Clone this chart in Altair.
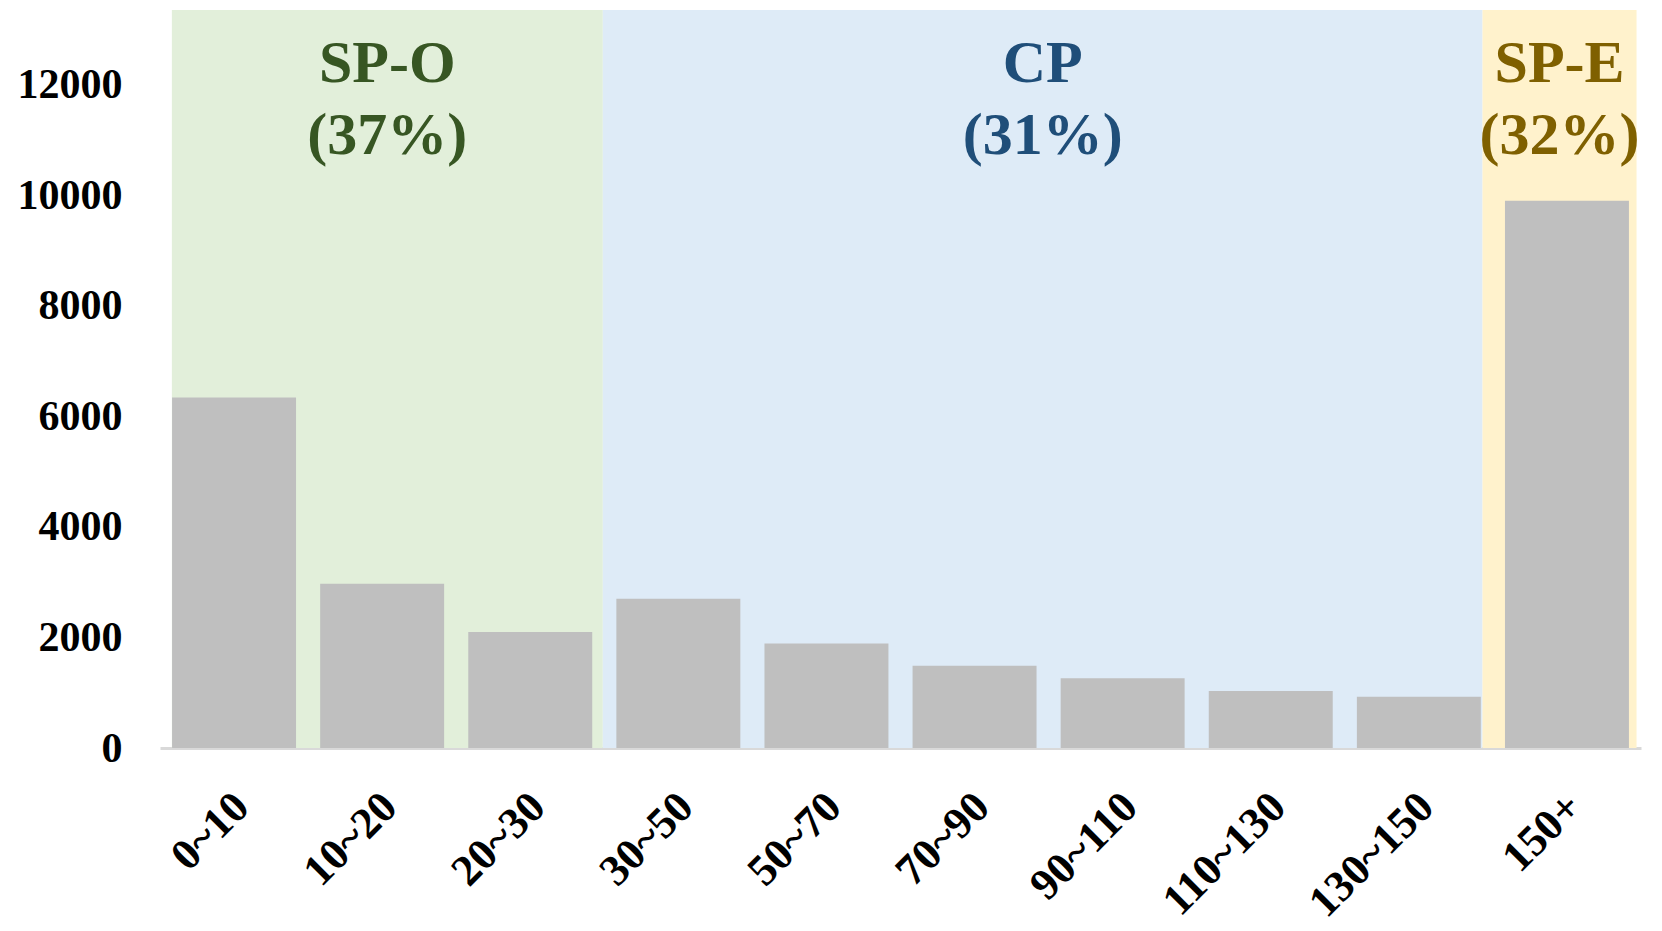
import altair as alt
import pandas as pd

# ---- data ----
categories = ["0~10", "10~20", "20~30", "30~50", "50~70", "70~90",
              "90~110", "110~130", "130~150", "150+"]
counts = [6340, 2970, 2100, 2700, 1890, 1490, 1260, 1030, 925, 9900]

region_names = ["SP-O", "CP", "SP-E"]
region_pct = ["(37%)", "(31%)", "(32%)"]
# region extents in category-slot units (0 = left edge of first slot, 10 = right edge of last)
region_start = [0.08, 2.99, 8.93]
region_end = [2.99, 8.93, 9.97]
region_fill = ["#e2efda", "#deebf7", "#fff2cc"]
region_text_color = ["#375623", "#1f4e79", "#7f6000"]

y_max = 13350
y_ticks = [0, 2000, 4000, 6000, 8000, 10000, 12000]

bars_df = pd.DataFrame({"cat": categories, "count": counts})
reg_df = pd.DataFrame({
    "name": region_names,
    "pct": region_pct,
    "start": region_start,
    "end": region_end,
    "fill": region_fill,
    "tcolor": region_text_color,
    "top": [y_max] * len(region_names),
    "bottom": [0] * len(region_names),
})

yscale = alt.Scale(domain=[0, y_max], nice=False, zero=True)
slot_scale = alt.Scale(domain=[0, len(categories)], nice=False, zero=False)
yaxis = alt.Axis(values=y_ticks, format="d")

bg = alt.Chart(reg_df).mark_rect().encode(
    x=alt.X("start:Q", scale=slot_scale, axis=None),
    x2="end:Q",
    y=alt.Y("top:Q", scale=yscale, title=None, axis=yaxis),
    y2="bottom:Q",
    fill=alt.Fill("fill:N", scale=None),
)

labels = alt.Chart(reg_df).transform_calculate(
    mid="(datum.start + datum.end) / 2",
    label="datum.name + '\\n' + datum.pct",
).mark_text(
    font="Liberation Serif", fontWeight="bold", fontSize=60,
    lineBreak="\n", lineHeight=72, baseline="alphabetic", align="center", dy=72,
).encode(
    x=alt.X("mid:Q", scale=slot_scale, axis=None),
    y=alt.Y(datum=y_max, scale=yscale, title=None, axis=yaxis),
    text="label:N",
    color=alt.Color("tcolor:N", scale=None),
)

bars = alt.Chart(bars_df).mark_bar(color="#bfbfbf").encode(
    x=alt.X("cat:N", sort=categories, title=None,
            scale=alt.Scale(paddingInner=0.163, paddingOuter=0.0815)),
    y=alt.Y("count:Q", scale=yscale, title=None, axis=yaxis),
)

chart = alt.layer(bg, bars, labels).resolve_scale(x="independent").properties(
    width=1481, height=738,
    padding={"left": 9, "top": 2, "right": 10, "bottom": 10},
).configure_view(stroke=None).configure_axis(
    labelFont="Liberation Serif", labelFontWeight="bold", labelFontSize=42,
    labelColor="black", grid=False, ticks=False, title=None,
).configure_axisY(
    domain=False, labelPadding=38,
).configure_axisX(
    domainColor="#d9d9d9", domainWidth=3, labelAngle=-45, labelFontSize=44,
    labelAlign="right", labelBaseline="middle", labelPadding=52, labelOffset=8,
)

chart.save("out.html", embed_options={"renderer": "svg", "actions": False})
